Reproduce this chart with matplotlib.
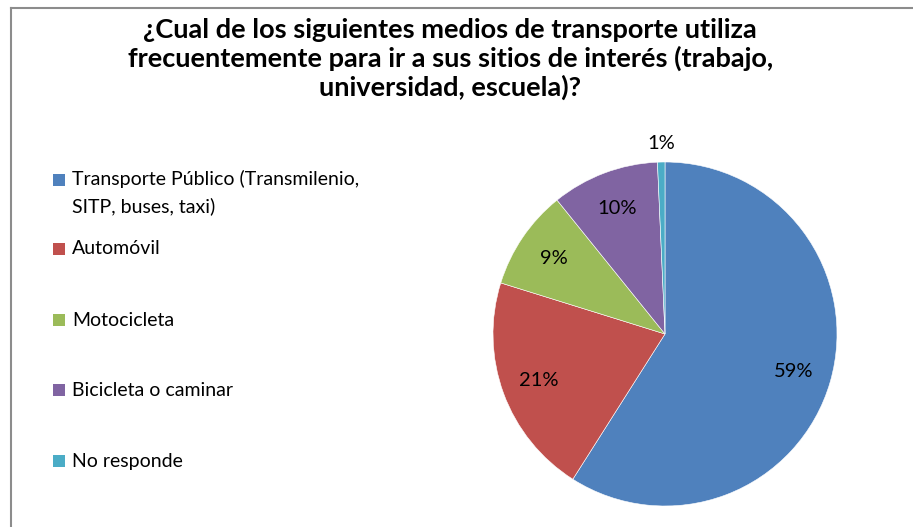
import matplotlib.pyplot as plt
from matplotlib.patches import Rectangle
from matplotlib.lines import Line2D

plt.rcParams['font.family'] = ['Lato', 'DejaVu Sans']

# data
categories = ['Transporte Público (Transmilenio,\nSITP, buses, taxi)', 'Automóvil',
              'Motocicleta', 'Bicicleta o caminar', 'No responde']
shares = [59.0, 20.8, 9.4, 10.1, 0.7]
colors = ['#4F81BD', '#C0504D', '#9BBB59', '#8064A2', '#4BACC6']
title = ('¿Cual de los siguientes medios de transporte utiliza\n'
         'frecuentemente para ir a sus sitios de interés (trabajo,\n'
         'universidad, escuela)?')

fig = plt.figure(figsize=(9.13, 5.27), dpi=100)

# chart border (left and top edges visible)
fig.add_artist(Line2D([11 / 913, 11 / 913], [0, 1 - 8 / 527], color='#8c8c8c', lw=1.5))
fig.add_artist(Line2D([11 / 913, 1], [1 - 8 / 527, 1 - 8 / 527], color='#8c8c8c', lw=1.5))

fig.text(0.493, 1 - 59 / 527, title, ha='center', va='center', fontsize=19.5,
         fontweight='bold', linespacing=1.18)

# pie
cx, cy, r = 665, 334, 172
ax = fig.add_axes([(cx - r) / 913, (527 - cy - r) / 527, 2 * r / 913, 2 * r / 527])
wedges, texts, autotexts = ax.pie(shares, colors=colors, startangle=90, counterclock=False,
                                  radius=1, autopct='%.0f%%', pctdistance=0.78,
                                  wedgeprops=dict(edgecolor='white', linewidth=0.4),
                                  textprops=dict(fontsize=14.5, color='black'))
# small slice label outside
x1, y1 = autotexts[-1].get_position()
autotexts[-1].set_position((x1 / 0.78 * 1.11, y1 / 0.78 * 1.11))
for t in autotexts:
    t.set_clip_on(False)
ax.set_xlim(-1, 1)
ax.set_ylim(-1, 1)
ax.set_aspect('equal')
ax.axis('off')

# legend
legend_y = [180, 249, 320, 390, 461]
for lab, col, y in zip(categories, colors, legend_y):
    fig.add_artist(Rectangle((53 / 913, 1 - (y + 6) / 527), 12 / 913, 12 / 527,
                             facecolor=col, edgecolor='none'))
    if '\n' in lab:
        fig.text(72 / 913, 1 - (y - 10) / 527, lab, ha='left', va='top',
                 fontsize=14, linespacing=1.6)
    else:
        fig.text(72 / 913, 1 - y / 527, lab, ha='left', va='center', fontsize=14)

fig.savefig('out.png', dpi=100)
